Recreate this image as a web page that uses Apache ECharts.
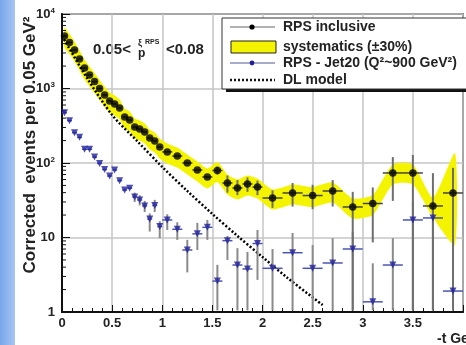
<!DOCTYPE html>
<html><head><meta charset="utf-8">
<script src="https://cdn.jsdelivr.net/npm/echarts@6/dist/echarts.min.js"></script>
<style>html,body{margin:0;padding:0;background:#fff}#c{width:466px;height:345px}</style>
</head><body><div id="c"></div>
<script>
// ---------------- data ----------------
const tInc = [0.025,0.075,0.125,0.175,0.225,0.275,0.325,0.375,0.425,0.475,0.525,0.575,0.625,0.675,0.725,0.775,0.825,0.875,0.925,0.975,
              1.05,1.15,1.25,1.35,1.45,1.55,1.65,1.75,1.85,1.95,
              2.1,2.3,2.5,2.7,2.9,3.1,3.3,3.5,3.7,3.9];
const vInc = [5070,4140,3290,2490,1880,1520,1240,1000,818,679,620,547,414,377,304,286,261,217,197,164,
              141,124,100,80.6,64.9,79.3,53.9,46.2,52.3,47.6,
              33.9,39.6,36.6,42.1,25.7,28.6,73.5,73.5,26.5,39.6];
const loInc = [null,null,null,null,null,null,null,null,null,null,null,null,null,null,null,null,null,null,null,null,
               null,null,null,null,null,70,40,37,41,37,
               25,26,24,26,1.05,8.6,31,1.05,1.05,1.05];
const hiInc = [null,null,null,null,null,null,null,null,null,null,null,null,null,null,null,null,null,null,null,null,
               null,null,null,null,null,90,68,59,64,58,
               43,54,51,59,41,47,120,128,73,86];

const tJet = tInc;
const vJet = [473,370,255,221,153,153,120,98.5,81.8,66.9,80.5,57.9,43.4,45.8,35,31.9,26.5,17.7,26.9,14,
              17.2,12.9,6.8,11.2,13.7,2.6,9.06,4.27,3.78,8.3,
              3.86,6.25,3.86,4.55,7.01,1.37,4.27,17.2,18.3,1.91];
const loJet = [null,null,null,null,null,null,null,null,null,null,null,null,null,null,30,27,22,12,22,9.8,
               12.6,9.3,3.4,6.8,9.3,1.05,5,1.05,1.05,2.7,
               1.05,1.05,1.05,1.05,1.05,1.05,1.05,1.05,1.05,1.05];
const hiJet = [null,null,null,null,null,null,null,null,null,null,null,null,null,null,40,37,31,21,32,16.5,
               20.5,16,9.3,15.7,17.2,4.3,10.5,7.2,6.4,12.6,
               7.0,11.5,7.9,9.8,12,4.5,9.8,30,30,6];

const SYS = 0.30;            // systematics (±30%)
const bandTailT = [3.92];    // flare of the band at the right edge
const bandTailLo = [7.9];
const bandTailHi = [136];

const tDL = [0,0.25,0.5,0.75,1.0,1.25,1.5,1.75,2.0,2.25,2.6];
const vDL = [5070,1383,441,197,88.4,42.1,20.7,10.5,5.47,2.86,1.24];

const xTicks = [0,0.5,1,1.5,2,2.5,3,3.5];
const yTicks = [1,10,100,1000,10000];

// ---------------- chart ----------------
const FONT = '"Liberation Sans", Arial, Helvetica, sans-serif';
const binHalf = t => t < 1 ? 0.025 : (t < 2 ? 0.05 : 0.1);

const sysT  = tInc.slice(0,-1).concat(bandTailT);
const sysHi = vInc.slice(0,-1).map(v=>v*(1+SYS)).concat(bandTailHi);
const sysLo = vInc.slice(0,-1).map(v=>v*(1-SYS)).concat(bandTailLo);

const minorY = [];
for (let k=0;k<4;k++) for (let m=2;m<=9;m++) minorY.push(m*Math.pow(10,k));

function errSeries(ts, vs, lo, hi, vColor, hColor, z){
  const data = ts.map((t,i)=>[t, vs[i], lo[i]==null?vs[i]:lo[i], hi[i]==null?vs[i]:hi[i], binHalf(t), lo[i]==null?0:1]);
  return {type:'custom', z, clip:true, silent:true, data, encode:{x:0,y:1},
    renderItem(params, api){
      const t=api.value(0), v=api.value(1), h=api.value(4);
      const ch=[];
      const pL=api.coord([t-h,v]), pR=api.coord([t+h,v]);
      ch.push({type:'line',shape:{x1:pL[0],y1:pL[1],x2:pR[0],y2:pR[1]},style:{stroke:hColor,lineWidth:1.5}});
      if (api.value(5)) {
        const a=api.coord([t,api.value(2)]), b=api.coord([t,api.value(3)]);
        ch.push({type:'line',shape:{x1:a[0],y1:a[1],x2:b[0],y2:b[1]},style:{stroke:vColor,lineWidth:2}});
      }
      return {type:'group',children:ch};
    }};
}

const supMap = {100:'2',1000:'3',10000:'4'};

const option = {
  animation:false,
  backgroundColor:'#ffffff',
  grid:{left:62, top:14, width:412, height:298, show:true, borderColor:'#111', borderWidth:1.5, backgroundColor:'#fff'},
  xAxis:{type:'value', min:0, max:4, interval:0.5,
    axisLine:{lineStyle:{color:'#111',width:2}},
    axisTick:{inside:true,length:7,lineStyle:{color:'#111',width:1}},
    minorTick:{show:true,splitNumber:5,length:4,lineStyle:{color:'#111',width:1}},
    splitLine:{show:true,lineStyle:{color:'#c6c6c6',width:1.5}},
    axisLabel:{margin:5, color:'#222', fontFamily:FONT, fontWeight:'bold', fontSize:13,
      formatter:v=> xTicks.indexOf(v)>=0 ? String(v) : ''}},
  yAxis:{type:'log', logBase:10, min:1, max:10000,
    axisLine:{lineStyle:{color:'#111',width:2}},
    axisTick:{inside:true,length:8,lineStyle:{color:'#111',width:1}},
    splitLine:{show:true,lineStyle:{color:'#c6c6c6',width:1.5}},
    axisLabel:{margin:7, color:'#222', fontFamily:FONT, fontWeight:'bold', fontSize:13,
      formatter:v=> yTicks.indexOf(v)<0 ? '' : (supMap[v] ? '10{s|'+supMap[v]+'}' : String(v)),
      rich:{s:{fontSize:8,fontWeight:'bold',fontFamily:FONT,color:'#222',verticalAlign:'top',padding:[0,0,7,0]}}}},
  series:[
    {type:'custom', z:1, clip:true, silent:true, data:[[1,1]], encode:{x:0,y:1},
      renderItem(params, api){
        const up = sysT.map((t,i)=>api.coord([t,sysHi[i]]));
        const dn = sysT.map((t,i)=>api.coord([t,sysLo[i]])).reverse();
        return {type:'polygon', shape:{points:up.concat(dn), smooth:0.2}, style:{fill:'#f4f400'}};
      }},
    {type:'custom', z:2, silent:true, data:minorY.map(v=>[0,v]), encode:{x:0,y:1},
      renderItem(params, api){
        const p=api.coord([0,api.value(1)]);
        return {type:'line',shape:{x1:p[0],y1:p[1],x2:p[0]+4,y2:p[1]},style:{stroke:'#111',lineWidth:1}};
      }},
    {type:'line', z:3, data:tDL.map((t,i)=>[t,vDL[i]]), smooth:0.3, symbol:'none', silent:true,
      lineStyle:{color:'#000', width:2.5, type:[2,2]}},
    errSeries(tJet, vJet, loJet, hiJet, '#8a8a8a', '#4a55b0', 4),
    errSeries(tInc, vInc, loInc, hiInc, '#6e6e6e', '#444', 4),
    {type:'scatter', z:5, data:tJet.map((t,i)=>[t,vJet[i]]), symbol:'triangle', symbolRotate:180, symbolSize:7,
      itemStyle:{color:'#1e1e9c'}},
    {type:'scatter', z:6, data:tInc.map((t,i)=>[t,vInc[i]]), symbol:'circle', symbolSize:7.5,
      itemStyle:{color:'#000'}}
  ],
  graphic:[
    {type:'rect', z:0, shape:{x:0,y:0,width:15,height:345},
      style:{fill:new echarts.graphic.LinearGradient(0,0,1,0,[{offset:0,color:'#78a6ea'},{offset:1,color:'#a6c6f2'}])}},
    // y axis title
    {type:'text', x:30, y:145, rotation:Math.PI/2,
      style:{text:'Corrected  events per 0.05 GeV\u00b2', fill:'#222', font:'bold 17px '+FONT, align:'center', verticalAlign:'middle'}},
    // x axis title
    {type:'text', x:437, y:339, style:{text:'-t GeV\u00b2', fill:'#222', font:'bold 14px '+FONT, align:'left', verticalAlign:'middle'}},
    // annotation
    {type:'text', x:93, y:50, style:{text:'0.05<', fill:'#222', font:'bold 15px '+FONT, align:'left', verticalAlign:'middle'}},
    {type:'text', x:138, y:44, style:{text:'\u03be', fill:'#222', font:'bold 9px '+FONT, align:'left', verticalAlign:'middle'}},
    {type:'text', x:145, y:42, style:{text:'RPS', fill:'#222', font:'bold 7px '+FONT, align:'left', verticalAlign:'middle'}},
    {type:'text', x:138, y:54, style:{text:'p', fill:'#222', font:'bold 12px '+FONT, align:'left', verticalAlign:'middle'}},
    {type:'text', x:166, y:50, style:{text:'<0.08', fill:'#222', font:'bold 15px '+FONT, align:'left', verticalAlign:'middle'}},
    // legend box
    {type:'rect', z:10, shape:{x:226,y:21,width:260,height:71}, style:{fill:'#111'}},
    {type:'rect', z:11, shape:{x:222,y:18,width:260,height:71}, style:{fill:'#fff',stroke:'#333',lineWidth:1}},
    {type:'line', z:12, shape:{x1:230,y1:27,x2:275,y2:27}, style:{stroke:'#999',lineWidth:1.5}},
    {type:'circle', z:12, shape:{cx:252,cy:27,r:2.6}, style:{fill:'#000'}},
    {type:'text', z:12, x:283, y:27, style:{text:'RPS inclusive', fill:'#222', font:'bold 14px '+FONT, verticalAlign:'middle'}},
    {type:'rect', z:12, shape:{x:231,y:41,width:45,height:12}, style:{fill:'#f4f400',stroke:'#222',lineWidth:1}},
    {type:'text', z:12, x:283, y:47, style:{text:'systematics (\u00b130%)', fill:'#222', font:'bold 14px '+FONT, verticalAlign:'middle'}},
    {type:'line', z:12, shape:{x1:230,y1:63,x2:275,y2:63}, style:{stroke:'#8890b8',lineWidth:1.5}},
    {type:'circle', z:12, shape:{cx:252,cy:63,r:2.4}, style:{fill:'#1e1e9c'}},
    {type:'text', z:12, x:283, y:63, style:{text:'RPS - Jet20 (Q\u00b2~900 GeV\u00b2)', fill:'#222', font:'bold 14px '+FONT, verticalAlign:'middle'}},
    {type:'line', z:12, shape:{x1:230,y1:80,x2:275,y2:80}, style:{stroke:'#111',lineWidth:2.5,lineDash:[2,2]}},
    {type:'text', z:12, x:283, y:80, style:{text:'DL model', fill:'#222', font:'bold 14px '+FONT, verticalAlign:'middle'}}
  ]
};
const chart = echarts.init(document.getElementById('c'), null, {renderer:'canvas'});
chart.setOption(option);
</script>
</body></html>
